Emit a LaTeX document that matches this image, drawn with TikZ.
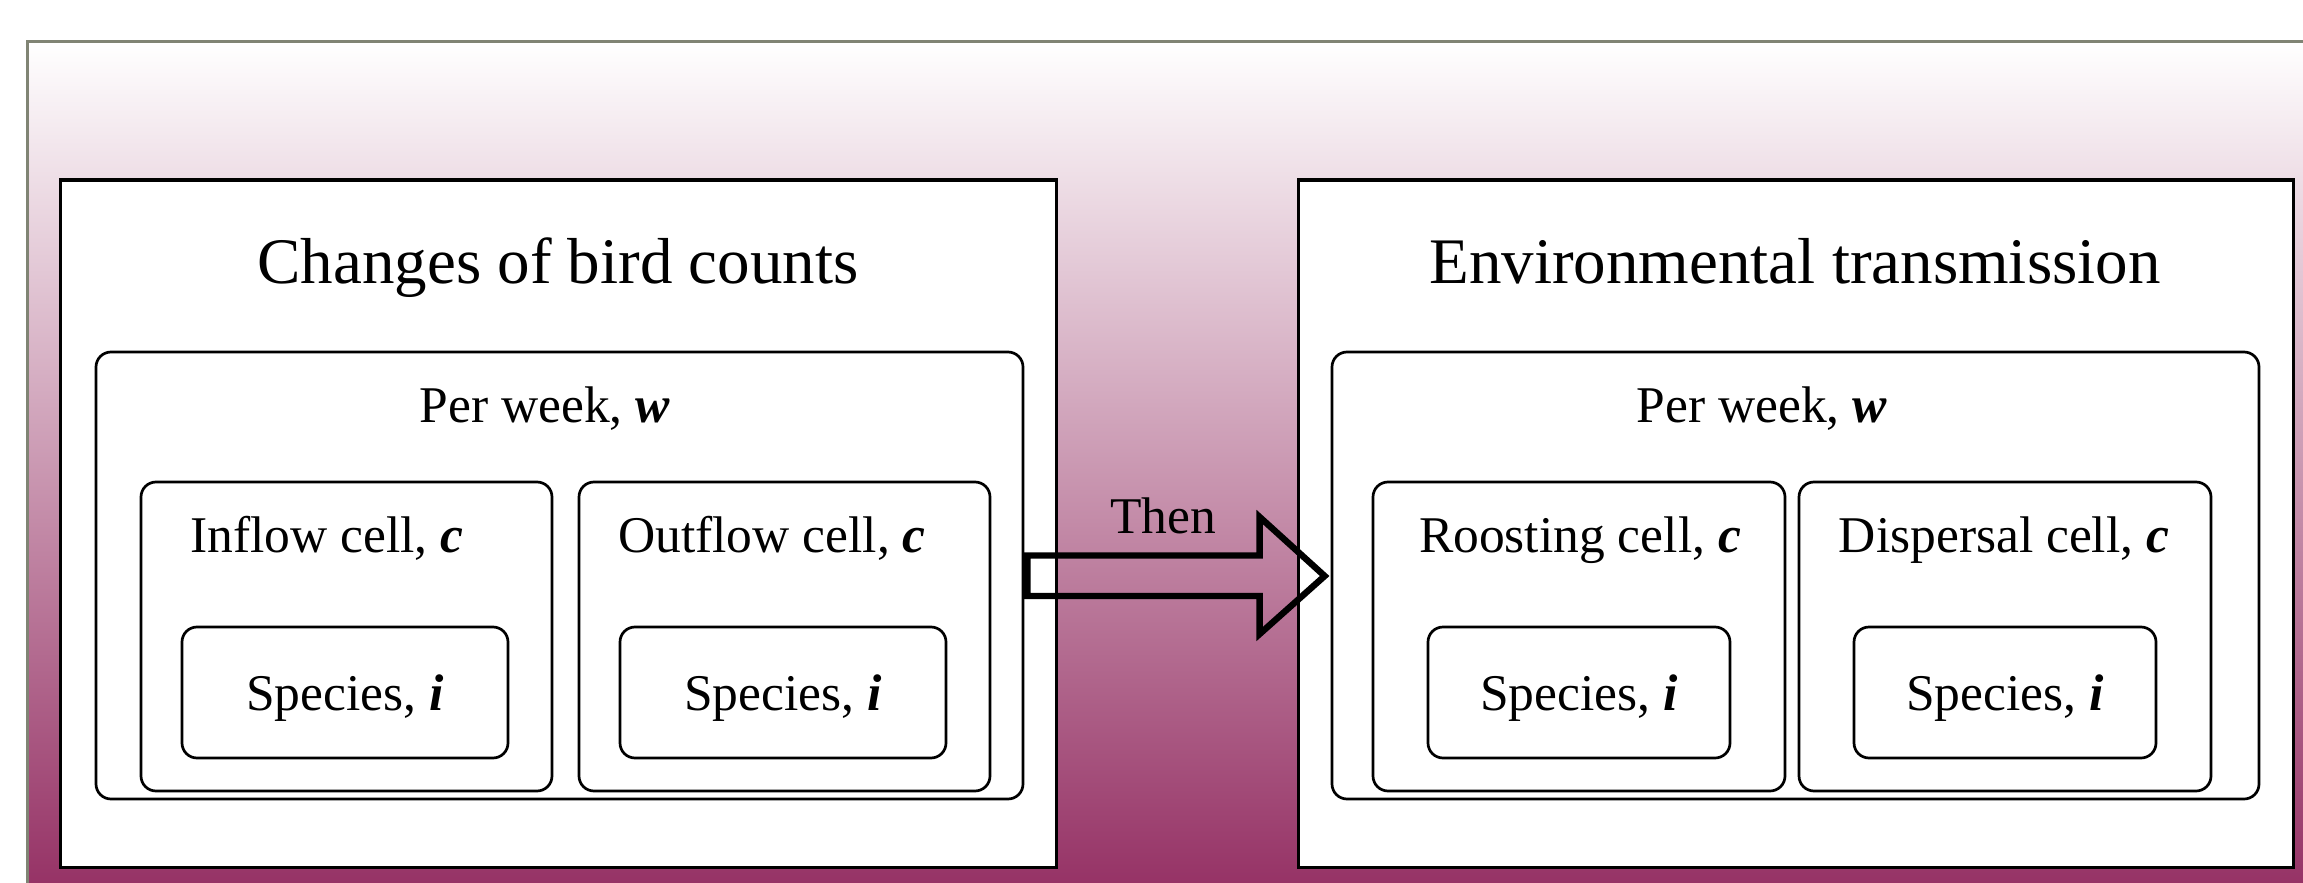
\documentclass[tikz,border=0pt]{standalone}
\usepackage{fontspec}
\setmainfont{Liberation Serif}
\definecolor{bgbot}{RGB}{150,51,102}
\definecolor{bgedge}{RGB}{128,132,116}
\newcommand{\bi}[1]{\textbf{\textit{#1}}}
\tikzset{
  outerbox/.style={draw=black, fill=white, line width=1.5pt, inner sep=0pt},
  roundbox/.style={draw=black, fill=white, line width=1.35pt, rounded corners=7.5pt, inner sep=0pt},
  big/.style={font=\fontsize{32.5pt}{38pt}\selectfont, anchor=base, inner sep=0pt},
  lbl/.style={font=\fontsize{25.75pt}{30pt}\selectfont, anchor=base, inner sep=0pt},
  blockarrow/.style={draw=black, line width=3.2pt, line join=miter},
}
\begin{document}
\begin{tikzpicture}[x=0.5pt, y=-0.5pt]
\useasboundingbox (0,0) rectangle (2303,883);
\clip (0,0) rectangle (2303,883);
% background
\fill[white] (0,0) rectangle (2303,883);
\shade[top color=white, bottom color=bgbot] (27,42) rectangle (2330,883);
\draw[bgedge, line width=1.5pt] (27,900) -- (27,42) -- (2330,42);

% outer boxes
\node[outerbox, minimum width=498pt, minimum height=343.5pt] (louter) at (558,523.5) {};
\node[outerbox, minimum width=497.5pt, minimum height=343.5pt] (router) at (1795.5,523.5) {};

% per week boxes
\node[roundbox, minimum width=463.5pt, minimum height=223.5pt] (lweek) at (559.5,575.5) {};
\node[roundbox, minimum width=463.5pt, minimum height=223.5pt] (rweek) at (1795.5,575.5) {};

% cell boxes
\node[roundbox, minimum width=205.5pt, minimum height=154.5pt] (inflow) at (346.5,636.5) {};
\node[roundbox, minimum width=205.5pt, minimum height=154.5pt] (outflow) at (784.5,636.5) {};
\node[roundbox, minimum width=206pt, minimum height=154.5pt] (roost) at (1579,636.5) {};
\node[roundbox, minimum width=206pt, minimum height=154.5pt] (disp) at (2005,636.5) {};

% species boxes
\node[roundbox, minimum width=163pt, minimum height=65.5pt] (sp1) at (345,692.5) {};
\node[roundbox, minimum width=163pt, minimum height=65.5pt] (sp2) at (783,692.5) {};
\node[roundbox, minimum width=151pt, minimum height=65.5pt] (sp3) at (1579,692.5) {};
\node[roundbox, minimum width=151pt, minimum height=65.5pt] (sp4) at (2005,692.5) {};

% texts
\node[big] (t1) at (558,283) {Changes of bird counts};
\node[big] (t2) at (1795,283) {Environmental transmission};
\node[lbl] (w1) at (545,422) {Per week, \bi{w}};
\node[lbl] (w2) at (1762,422) {Per week, \bi{w}};
\node[lbl] (c1) at (327,552) {Inflow cell, \bi{c}};
\node[lbl] (c2) at (772,552) {Outflow cell, \bi{c}};
\node[lbl] (c3) at (1580,552) {Roosting cell, \bi{c}};
\node[lbl] (c4) at (2004,552) {Dispersal cell, \bi{c}};
\node[lbl] (s1) at (345,710) {Species, \bi{i}};
\node[lbl] (s2) at (783,710) {Species, \bi{i}};
\node[lbl] (s3) at (1579,710) {Species, \bi{i}};
\node[lbl] (s4) at (2005,710) {Species, \bi{i}};
\node[lbl] (then) at (1163,533) {Then};

% block arrow from left box to right box
\coordinate (atail) at ([shift={(3,0)}]lweek.east |- 0,576);
\coordinate (atip) at ([shift={(-6,0)}]rweek.west |- 0,576);
\draw[blockarrow] ([shift={(0,-20.5)}]atail) -- ([shift={(-65,-20.5)}]atip)
  -- ([shift={(-65,-59)}]atip) -- (atip) -- ([shift={(-65,58)}]atip)
  -- ([shift={(-65,20)}]atip) -- ([shift={(0,20)}]atail) -- cycle;
\end{tikzpicture}
\end{document}
